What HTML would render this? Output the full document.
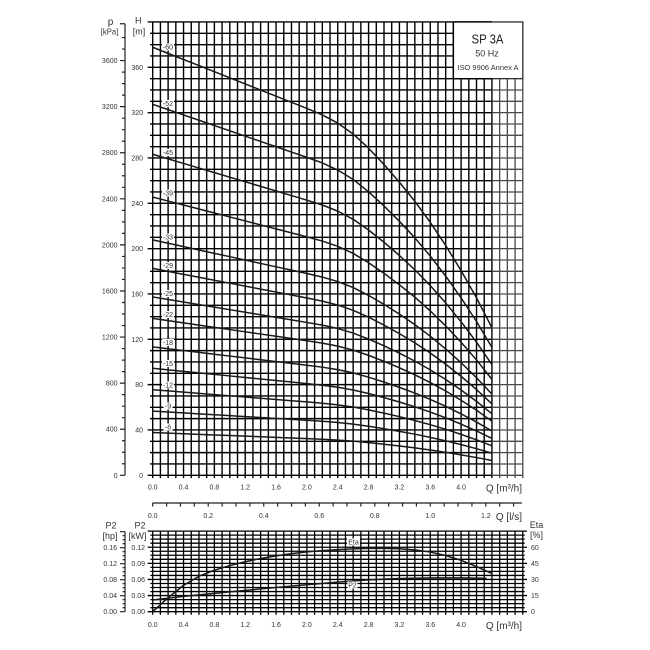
<!DOCTYPE html>
<html><head><meta charset="utf-8">
<style>
html,body{margin:0;padding:0;background:#fff}
svg{display:block}
text{font-family:"Liberation Sans",sans-serif;fill:#333}
path,polyline,rect{vector-effect:non-scaling-stroke}
</style></head>
<body>
<svg width="650" height="650" viewBox="0 0 650 650" xmlns="http://www.w3.org/2000/svg">
<rect x="0" y="0" width="650" height="650" fill="#fff"/>

<!-- TOP PLOT GRID -->
<g transform="translate(152.7,475.3) scale(7.71,-11.333)" fill="none">
<path stroke="#000" stroke-width="1.4" d="M0,-0.25V40M1,-0.25V40M2,-0.25V40M3,-0.25V40M4,-0.25V40M5,-0.25V40M6,-0.25V40M7,-0.25V40M8,-0.25V40M9,-0.25V40M10,-0.25V40M11,-0.25V40M12,-0.25V40M13,-0.25V40M14,-0.25V40M15,-0.25V40M16,-0.25V40M17,-0.25V40M18,-0.25V40M19,-0.25V40M20,-0.25V40M21,-0.25V40M22,-0.25V40M23,-0.25V40M24,-0.25V40M25,-0.25V40M26,-0.25V40M27,-0.25V40M28,-0.25V40M29,-0.25V40M30,-0.25V40M31,-0.25V40M32,-0.25V40M33,-0.25V40M34,-0.25V40M35,-0.25V40M36,-0.25V40M37,-0.25V40M38,-0.25V40M39,-0.25V40M40,-0.25V40M41,-0.25V40M42,-0.25V40M43,-0.25V40M44,-0.25V40M-0.65,0H44M-0.35,1H44M-0.35,2H44M-0.35,3H44M-0.65,4H44M-0.35,5H44M-0.35,6H44M-0.35,7H44M-0.65,8H44M-0.35,9H44M-0.35,10H44M-0.35,11H44M-0.65,12H44M-0.35,13H44M-0.35,14H44M-0.35,15H44M-0.65,16H44M-0.35,17H44M-0.35,18H44M-0.35,19H44M-0.65,20H44M-0.35,21H44M-0.35,22H44M-0.35,23H44M-0.65,24H44M-0.35,25H44M-0.35,26H44M-0.35,27H44M-0.65,28H44M-0.35,29H44M-0.35,30H44M-0.35,31H44M-0.65,32H44M-0.35,33H44M-0.35,34H44M-0.35,35H44M-0.65,36H44M-0.35,37H44M-0.35,38H44M-0.35,39H44M-0.65,40H44"/>
<path stroke="#4a4a4a" stroke-width="1.3" d="M45,-0.25V40M46,-0.25V40M47,-0.25V40M48,-0.25V40M44,0H48M44,1H48M44,2H48M44,3H48M44,4H48M44,5H48M44,6H48M44,7H48M44,8H48M44,9H48M44,10H48M44,11H48M44,12H48M44,13H48M44,14H48M44,15H48M44,16H48M44,17H48M44,18H48M44,19H48M44,20H48M44,21H48M44,22H48M44,23H48M44,24H48M44,25H48M44,26H48M44,27H48M44,28H48M44,29H48M44,30H48M44,31H48M44,32H48M44,33H48M44,34H48M44,35H48M44,36H48M44,37H48M44,38H48M44,39H48M44,40H48"/>
<rect x="39" y="35" width="9" height="5" fill="#fff" stroke="none"/>
<path stroke="#000" stroke-width="1.4" d="M39,35V40H44M39,35H44"/>
<path stroke="#333" stroke-width="1.3" d="M44,35H48V40H44"/>

<g stroke="#1a1a1a" stroke-width="1.5" fill="none" stroke-linejoin="round">
<polyline transform="scale(1,6)" points="0,6.295 2,6.205 4,6.115 6,6.025 8,5.935 10,5.845 12,5.755 14,5.665 16,5.575 18,5.485 20,5.395 22,5.30 24,5.18 26,5.02 28,4.81 30,4.57 32,4.31 34,4.03 36,3.72 38,3.38 40,3.01 42,2.61 44,2.17"/>
<polyline transform="scale(1,5.2)" points="0,6.295 2,6.205 4,6.115 6,6.025 8,5.935 10,5.845 12,5.755 14,5.665 16,5.575 18,5.485 20,5.395 22,5.30 24,5.18 26,5.02 28,4.81 30,4.57 32,4.31 34,4.03 36,3.72 38,3.38 40,3.01 42,2.61 44,2.17"/>
<polyline transform="scale(1,4.5)" points="0,6.295 2,6.205 4,6.115 6,6.025 8,5.935 10,5.845 12,5.755 14,5.665 16,5.575 18,5.485 20,5.395 22,5.30 24,5.18 26,5.02 28,4.81 30,4.57 32,4.31 34,4.03 36,3.72 38,3.38 40,3.01 42,2.61 44,2.17"/>
<polyline transform="scale(1,3.9)" points="0,6.295 2,6.205 4,6.115 6,6.025 8,5.935 10,5.845 12,5.755 14,5.665 16,5.575 18,5.485 20,5.395 22,5.30 24,5.18 26,5.02 28,4.81 30,4.57 32,4.31 34,4.03 36,3.72 38,3.38 40,3.01 42,2.61 44,2.17"/>
<polyline transform="scale(1,3.3)" points="0,6.295 2,6.205 4,6.115 6,6.025 8,5.935 10,5.845 12,5.755 14,5.665 16,5.575 18,5.485 20,5.395 22,5.30 24,5.18 26,5.02 28,4.81 30,4.57 32,4.31 34,4.03 36,3.72 38,3.38 40,3.01 42,2.61 44,2.17"/>
<polyline transform="scale(1,2.9)" points="0,6.295 2,6.205 4,6.115 6,6.025 8,5.935 10,5.845 12,5.755 14,5.665 16,5.575 18,5.485 20,5.395 22,5.30 24,5.18 26,5.02 28,4.81 30,4.57 32,4.31 34,4.03 36,3.72 38,3.38 40,3.01 42,2.61 44,2.17"/>
<polyline transform="scale(1,2.5)" points="0,6.295 2,6.205 4,6.115 6,6.025 8,5.935 10,5.845 12,5.755 14,5.665 16,5.575 18,5.485 20,5.395 22,5.30 24,5.18 26,5.02 28,4.81 30,4.57 32,4.31 34,4.03 36,3.72 38,3.38 40,3.01 42,2.61 44,2.17"/>
<polyline transform="scale(1,2.2)" points="0,6.295 2,6.205 4,6.115 6,6.025 8,5.935 10,5.845 12,5.755 14,5.665 16,5.575 18,5.485 20,5.395 22,5.30 24,5.18 26,5.02 28,4.81 30,4.57 32,4.31 34,4.03 36,3.72 38,3.38 40,3.01 42,2.61 44,2.17"/>
<polyline transform="scale(1,1.8)" points="0,6.295 2,6.205 4,6.115 6,6.025 8,5.935 10,5.845 12,5.755 14,5.665 16,5.575 18,5.485 20,5.395 22,5.30 24,5.18 26,5.02 28,4.81 30,4.57 32,4.31 34,4.03 36,3.72 38,3.38 40,3.01 42,2.61 44,2.17"/>
<polyline transform="scale(1,1.5)" points="0,6.295 2,6.205 4,6.115 6,6.025 8,5.935 10,5.845 12,5.755 14,5.665 16,5.575 18,5.485 20,5.395 22,5.30 24,5.18 26,5.02 28,4.81 30,4.57 32,4.31 34,4.03 36,3.72 38,3.38 40,3.01 42,2.61 44,2.17"/>
<polyline transform="scale(1,1.2)" points="0,6.295 2,6.205 4,6.115 6,6.025 8,5.935 10,5.845 12,5.755 14,5.665 16,5.575 18,5.485 20,5.395 22,5.30 24,5.18 26,5.02 28,4.81 30,4.57 32,4.31 34,4.03 36,3.72 38,3.38 40,3.01 42,2.61 44,2.17"/>
<polyline transform="scale(1,0.9)" points="0,6.295 2,6.205 4,6.115 6,6.025 8,5.935 10,5.845 12,5.755 14,5.665 16,5.575 18,5.485 20,5.395 22,5.30 24,5.18 26,5.02 28,4.81 30,4.57 32,4.31 34,4.03 36,3.72 38,3.38 40,3.01 42,2.61 44,2.17"/>
<polyline transform="scale(1,0.6)" points="0,6.295 2,6.205 4,6.115 6,6.025 8,5.935 10,5.845 12,5.755 14,5.665 16,5.575 18,5.485 20,5.395 22,5.30 24,5.18 26,5.02 28,4.81 30,4.57 32,4.31 34,4.03 36,3.72 38,3.38 40,3.01 42,2.61 44,2.17"/>
</g>
</g>

<!-- curve labels -->
<g fill="#fff" stroke="none">
<rect x="162" y="43.5" width="12" height="7"/>
<rect x="162" y="100" width="12" height="7"/>
<rect x="162" y="149" width="12" height="7"/>
<rect x="162" y="189.5" width="12" height="7"/>
<rect x="162" y="233.5" width="12" height="7"/>
<rect x="162" y="262" width="12" height="7"/>
<rect x="162" y="290" width="12" height="7"/>
<rect x="162" y="311" width="12" height="7"/>
<rect x="162" y="339" width="12" height="7"/>
<rect x="162" y="360" width="12" height="7"/>
<rect x="162" y="381.5" width="12" height="7"/>
<rect x="163.5" y="402.5" width="9" height="7"/>
<rect x="163.5" y="423.5" width="9" height="7"/>
</g>
<g font-size="7" text-anchor="middle">
<text x="168" y="49.5">-60</text>
<text x="168" y="106">-52</text>
<text x="168" y="155">-45</text>
<text x="168" y="195.5">-39</text>
<text x="168" y="239.5">-33</text>
<text x="168" y="268">-29</text>
<text x="168" y="296">-25</text>
<text x="168" y="317">-22</text>
<text x="168" y="345">-18</text>
<text x="168" y="366">-15</text>
<text x="168" y="387.5">-12</text>
<text x="168" y="408.5">-9</text>
<text x="168" y="429.5">-6</text>
</g>

<!-- title box text -->
<text x="487.5" y="43.3" font-size="13" text-anchor="middle" textLength="32" lengthAdjust="spacingAndGlyphs" style="fill:#222">SP 3A</text>
<text x="487" y="56.7" font-size="9" text-anchor="middle">50 Hz</text>
<text x="488" y="70" font-size="7" text-anchor="middle" textLength="61" lengthAdjust="spacingAndGlyphs">ISO 9906 Annex A</text>

<!-- p axis -->
<g transform="translate(0,475.3) scale(1,-11.52)" fill="none" stroke="#222" stroke-width="1.2">
<path d="M125,0V39.2M120,0H125M122,1H125M122,2H125M122,3H125M120,4H125M122,5H125M122,6H125M122,7H125M120,8H125M122,9H125M122,10H125M122,11H125M120,12H125M122,13H125M122,14H125M122,15H125M120,16H125M122,17H125M122,18H125M122,19H125M120,20H125M122,21H125M122,22H125M122,23H125M120,24H125M122,25H125M122,26H125M122,27H125M120,28H125M122,29H125M122,30H125M122,31H125M120,32H125M122,33H125M122,34H125M122,35H125M120,36H125M122,37H125M122,38H125M120,39.2H125"/>
</g>
<text x="110.5" y="25" font-size="10" text-anchor="middle">p</text>
<text x="109.5" y="34.5" font-size="8.5" text-anchor="middle" textLength="17.5" lengthAdjust="spacingAndGlyphs">[kPa]</text>
<text x="138.3" y="23.5" font-size="9" text-anchor="middle">H</text>
<text x="139" y="34.5" font-size="9" text-anchor="middle">[m]</text>

<g font-size="7" text-anchor="end">
<text x="117.5" y="63.1">3600</text>
<text x="117.5" y="109.2">3200</text>
<text x="117.5" y="155.2">2800</text>
<text x="117.5" y="201.3">2400</text>
<text x="117.5" y="247.4">2000</text>
<text x="117.5" y="293.5">1600</text>
<text x="117.5" y="339.6">1200</text>
<text x="117.5" y="385.6">800</text>
<text x="117.5" y="431.7">400</text>
<text x="117.5" y="477.8">0</text>
<text x="143" y="69.8">360</text>
<text x="143" y="115.1">320</text>
<text x="143" y="160.5">280</text>
<text x="143" y="205.8">240</text>
<text x="143" y="251.1">200</text>
<text x="143" y="296.5">160</text>
<text x="143" y="341.8">120</text>
<text x="143" y="387.1">80</text>
<text x="143" y="432.5">40</text>
<text x="143" y="477.8">0</text>
</g>

<!-- top x labels -->
<g font-size="7" text-anchor="middle">
<text x="152.7" y="489.5">0.0</text>
<text x="183.54" y="489.5">0.4</text>
<text x="214.38" y="489.5">0.8</text>
<text x="245.22" y="489.5">1.2</text>
<text x="276.06" y="489.5">1.6</text>
<text x="306.9" y="489.5">2.0</text>
<text x="337.74" y="489.5">2.4</text>
<text x="368.58" y="489.5">2.8</text>
<text x="399.42" y="489.5">3.2</text>
<text x="430.26" y="489.5">3.6</text>
<text x="461.1" y="489.5">4.0</text>
</g>
<text x="522" y="491.5" font-size="10" text-anchor="end">Q [m³/h]</text>

<!-- l/s axis -->
<g transform="translate(152.7,503) scale(13.88,1)" fill="none" stroke="#222" stroke-width="1.2">
<path d="M0,0H26.6M0,0V3.5M1,0V3.5M2,0V3.5M3,0V3.5M4,0V3.5M5,0V3.5M6,0V3.5M7,0V3.5M8,0V3.5M9,0V3.5M10,0V3.5M11,0V3.5M12,0V3.5M13,0V3.5M14,0V3.5M15,0V3.5M16,0V3.5M17,0V3.5M18,0V3.5M19,0V3.5M20,0V3.5M21,0V3.5M22,0V3.5M23,0V3.5M24,0V3.5M25,0V3.5M26,0V3.5"/>
</g>
<g font-size="7" text-anchor="middle">
<text x="152.7" y="518">0.0</text>
<text x="208.22" y="518">0.2</text>
<text x="263.74" y="518">0.4</text>
<text x="319.26" y="518">0.6</text>
<text x="374.78" y="518">0.8</text>
<text x="430.3" y="518">1.0</text>
<text x="485.82" y="518">1.2</text>
</g>
<text x="522" y="520" font-size="10" text-anchor="end">Q [l/s]</text>

<!-- BOTTOM PLOT -->
<g transform="translate(152.7,611.7) scale(7.71,-4.03)" fill="none">
<path stroke="#000" stroke-width="1.3" d="M0,-0.75V20M1,-0.75V20M2,-0.75V20M3,-0.75V20M4,-0.75V20M5,-0.75V20M6,-0.75V20M7,-0.75V20M8,-0.75V20M9,-0.75V20M10,-0.75V20M11,-0.75V20M12,-0.75V20M13,-0.75V20M14,-0.75V20M15,-0.75V20M16,-0.75V20M17,-0.75V20M18,-0.75V20M19,-0.75V20M20,-0.75V20M21,-0.75V20M22,-0.75V20M23,-0.75V20M24,-0.75V20M25,-0.75V20M26,-0.75V20M27,-0.75V20M28,-0.75V20M29,-0.75V20M30,-0.75V20M31,-0.75V20M32,-0.75V20M33,-0.75V20M34,-0.75V20M35,-0.75V20M36,-0.75V20M37,-0.75V20M38,-0.75V20M39,-0.75V20M40,-0.75V20M41,-0.75V20M42,-0.75V20M43,-0.75V20M44,-0.75V20M45,-0.75V20M46,-0.75V20M47,-0.75V20M48,-0.75V20M-0.65,0H48.55M-0.3,1H48.25M-0.3,2H48.25M-0.3,3H48.25M-0.65,4H48.55M-0.3,5H48.25M-0.3,6H48.25M-0.3,7H48.25M-0.65,8H48.55M-0.3,9H48.25M-0.3,10H48.25M-0.3,11H48.25M-0.65,12H48.55M-0.3,13H48.25M-0.3,14H48.25M-0.3,15H48.25M-0.65,16H48.55M-0.3,17H48.25M-0.3,18H48.25M-0.3,19H48.25M-0.65,20H48.55"/>
<g stroke="#1a1a1a" stroke-width="1.5" stroke-linejoin="round">
<polyline points="0,0 2,3.47 4,6.53 6,8.8 8,10.3 10,11.45 12,12.4 14,13.2 16,13.85 18,14.4 20,14.85 22,15.15 24,15.4 26,15.58 28,15.7 30,15.72 32,15.63 34,15.35 36,14.8 38,13.95 40,12.75 42,11.2 44,9.45"/>
<polyline points="0,2.9 4,3.8 8,4.55 12,5.3 16,6.0 20,6.7 24,7.35 28,7.9 32,8.25 36,8.4 40,8.38 43.3,8.3"/>
</g>
</g>
<rect x="347" y="538.5" width="13" height="7" fill="#fff"/>
<text x="353.5" y="544.5" font-size="7" text-anchor="middle">Eta</text>
<rect x="347.5" y="581.5" width="10" height="7" fill="#fff"/>
<text x="352.5" y="587.5" font-size="7" text-anchor="middle">P2</text>

<!-- hp axis -->
<g transform="translate(0,611.7) scale(1,-4.0)" fill="none" stroke="#222" stroke-width="1.2">
<path d="M125,0V20M120,0H125M122.5,1H125M122.5,2H125M122.5,3H125M120,4H125M122.5,5H125M122.5,6H125M122.5,7H125M120,8H125M122.5,9H125M122.5,10H125M122.5,11H125M120,12H125M122.5,13H125M122.5,14H125M122.5,15H125M120,16H125M122.5,17H125M122.5,18H125M122.5,19H125M120,20H125"/>
</g>
<text x="111" y="528.5" font-size="9" text-anchor="middle">P2</text>
<text x="110" y="539" font-size="9" text-anchor="middle">[hp]</text>
<text x="140" y="528.5" font-size="9" text-anchor="middle">P2</text>
<text x="137.5" y="539" font-size="9" text-anchor="middle">[kW]</text>
<text x="536.5" y="528" font-size="9" text-anchor="middle">Eta</text>
<text x="536.5" y="538" font-size="9" text-anchor="middle">[%]</text>

<g font-size="7" text-anchor="end">
<text x="117" y="550.2">0.16</text>
<text x="117" y="566.2">0.12</text>
<text x="117" y="582.2">0.08</text>
<text x="117" y="598.2">0.04</text>
<text x="117" y="614.2">0.00</text>
<text x="145" y="549.8">0.12</text>
<text x="145" y="565.9">0.09</text>
<text x="145" y="582">0.06</text>
<text x="145" y="598.1">0.03</text>
<text x="145" y="614.2">0.00</text>
</g>
<g font-size="7" text-anchor="start">
<text x="531" y="549.8">60</text>
<text x="531" y="565.9">45</text>
<text x="531" y="582">30</text>
<text x="531" y="598.1">15</text>
<text x="531" y="614.2">0</text>
</g>

<g font-size="7" text-anchor="middle">
<text x="152.7" y="627">0.0</text>
<text x="183.54" y="627">0.4</text>
<text x="214.38" y="627">0.8</text>
<text x="245.22" y="627">1.2</text>
<text x="276.06" y="627">1.6</text>
<text x="306.9" y="627">2.0</text>
<text x="337.74" y="627">2.4</text>
<text x="368.58" y="627">2.8</text>
<text x="399.42" y="627">3.2</text>
<text x="430.26" y="627">3.6</text>
<text x="461.1" y="627">4.0</text>
</g>
<text x="522" y="629" font-size="10" text-anchor="end">Q [m³/h]</text>
</svg>
</body></html>
